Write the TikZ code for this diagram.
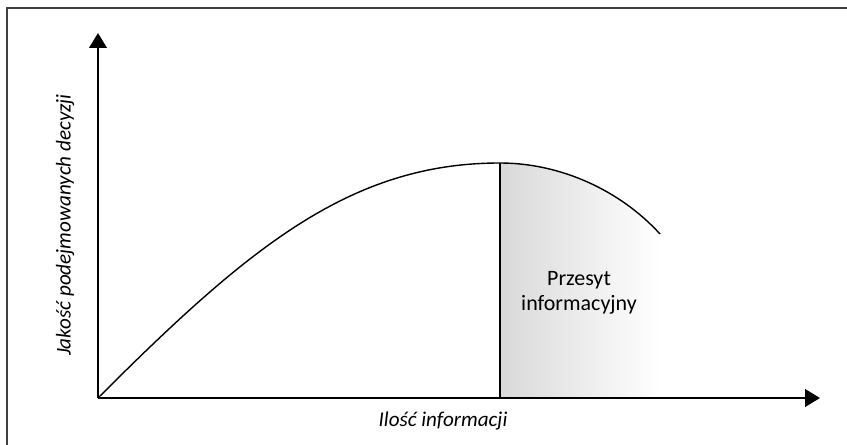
\documentclass[tikz,border=0pt]{standalone}
\usepackage{fontspec}
\setmainfont{Carlito}
\usepackage{tikz}
\usetikzlibrary{arrows.meta}

\begin{document}
\begin{tikzpicture}[
  x=0.02cm, y=-0.02cm,
  axis/.style={-{Triangle[length=8.5pt, width=10pt]}, line width=1.1pt},
  curve/.style={line width=0.8pt},
  label/.style={font=\fontsize{12}{14.5}\selectfont\itshape, inner sep=0pt},
  area/.style={font=\fontsize{12.5}{14.5}\selectfont, align=center, inner sep=0pt}
]
  \useasboundingbox (0,0) rectangle (847,445);
  \draw[line width=0.9pt, black!75] (7,470) -- (7,8) -- (870,8);

  \coordinate (o) at (98,398);
  \coordinate (peak) at (500,163);
  \coordinate (end) at (660,234);
  \coordinate (xtip) at (820,398);
  \coordinate (ytip) at (98,33);

  % saturation area
  \shade[left color=black!15, right color=white]
    (peak) .. controls (560,163) and (620,190) .. (end)
    -- (end |- o) -- (peak |- o) -- cycle;

  \draw[curve] (o) .. controls (248,248) and (350,163) .. (peak)
    .. controls (560,163) and (620,190) .. (end);
  \draw[curve] (peak) -- (peak |- o);

  \draw[axis] (o) -- (xtip);
  \draw[axis] (o) -- (ytip);

  \node[label] (xlab) at (443,421) {Ilość informacji};
  \node[label, rotate=90] (ylab) at (65,225) {Jakość podejmowanych decyzji};
  \node[area] (przesyt) at (579,293) {Przesyt\\informacyjny};
\end{tikzpicture}
\end{document}
